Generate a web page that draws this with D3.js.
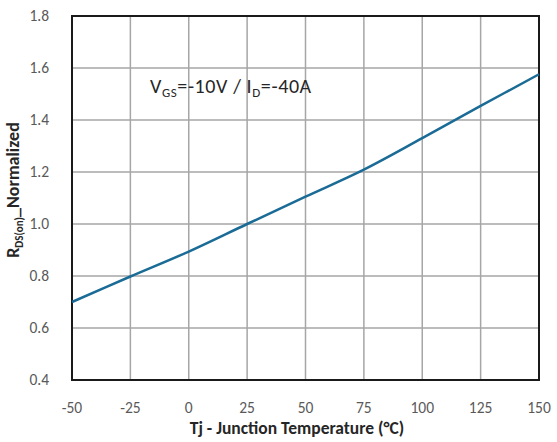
<!DOCTYPE html>
<html>
<head>
<meta charset="utf-8">
<script src="https://cdn.jsdelivr.net/npm/d3@7"></script>
<style>
  body { margin: 0; background: #fff; }
  text { font-family: Carlito, Lato, "Liberation Sans", sans-serif; }
</style>
</head>
<body>
<svg id="chart"></svg>
<script>
// data
const temps = [-50, -25, 0, 25, 50, 75, 100, 125, 150];
const rdsNorm = [0.70, 0.798, 0.894, 1.0, 1.105, 1.209, 1.330, 1.454, 1.576];
const xTicks = [-50, -25, 0, 25, 50, 75, 100, 125, 150];
const yTicks = [0.4, 0.6, 0.8, 1.0, 1.2, 1.4, 1.6, 1.8];

const width = 557;
const height = 442;
const margin = { top: 16, right: 18, bottom: 62, left: 72 };

const svg = d3.select('#chart')
    .attr('width', width)
    .attr('height', height);

const x = d3.scaleLinear()
    .domain([-50, 150])
    .range([margin.left, width - margin.right]);

const y = d3.scaleLinear()
    .domain([0.4, 1.8])
    .range([height - margin.bottom, margin.top]);

// grid
svg.append('g')
    .selectAll('line')
    .data(xTicks)
    .join('line')
    .attr('x1', d => x(d)).attr('x2', d => x(d))
    .attr('y1', y(0.4)).attr('y2', y(1.8))
    .attr('stroke', '#a6a6a6')
    .attr('stroke-width', 1.5);

svg.append('g')
    .selectAll('line')
    .data(yTicks)
    .join('line')
    .attr('x1', x(-50)).attr('x2', x(150))
    .attr('y1', d => y(d)).attr('y2', d => y(d))
    .attr('stroke', '#a6a6a6')
    .attr('stroke-width', 1.5);

// plot border
svg.append('rect')
    .attr('x', x(-50))
    .attr('y', y(1.8))
    .attr('width', x(150) - x(-50))
    .attr('height', y(0.4) - y(1.8))
    .attr('fill', 'none')
    .attr('stroke', '#1a1a1a')
    .attr('stroke-width', 2);

// curve
const line = d3.line()
    .x((d, i) => x(temps[i]))
    .y(d => y(d))
    .curve(d3.curveCatmullRom.alpha(0.5));

svg.append('path')
    .datum(rdsNorm)
    .attr('fill', 'none')
    .attr('stroke', '#1a6b96')
    .attr('stroke-width', 2.5)
    .attr('d', line);

// tick labels
svg.append('g')
    .selectAll('text')
    .data(yTicks)
    .join('text')
    .attr('x', 49)
    .attr('y', d => y(d))
    .attr('dy', '0.35em')
    .attr('text-anchor', 'end')
    .attr('font-size', 15.5)
    .attr('fill', '#595959')
    .text(d => d3.format('.1f')(d));

svg.append('g')
    .selectAll('text')
    .data(xTicks)
    .join('text')
    .attr('x', d => x(d))
    .attr('y', 413)
    .attr('text-anchor', 'middle')
    .attr('font-size', 15.5)
    .attr('fill', '#595959')
    .text(d => d);

// axis titles
svg.append('text')
    .attr('x', 297)
    .attr('y', 434)
    .attr('text-anchor', 'middle')
    .attr('font-size', 17.5)
    .attr('font-weight', 'bold')
    .attr('fill', '#262626')
    .text('Tj - Junction Temperature (°C)');

const yTitle = svg.append('text')
    .attr('transform', 'translate(19,190) rotate(-90)')
    .attr('text-anchor', 'middle')
    .attr('font-size', 18)
    .attr('font-weight', 'bold')
    .attr('fill', '#262626');
yTitle.append('tspan').text('R');
yTitle.append('tspan').attr('font-size', 11).attr('dy', 4).text('DS(on)');
yTitle.append('tspan').attr('dy', -4).text('_Normalized');

// condition note
const note = svg.append('text')
    .attr('x', 150)
    .attr('y', 93)
    .attr('font-size', 20)
    .attr('letter-spacing', 0.6)
    .attr('fill', '#262626');
note.append('tspan').text('V');
note.append('tspan').attr('font-size', 13).attr('dy', 4).text('GS');
note.append('tspan').attr('dy', -4).text('=-10V / I');
note.append('tspan').attr('font-size', 13).attr('dy', 4).text('D');
note.append('tspan').attr('dy', -4).text('=-40A');
</script>
</body>
</html>
